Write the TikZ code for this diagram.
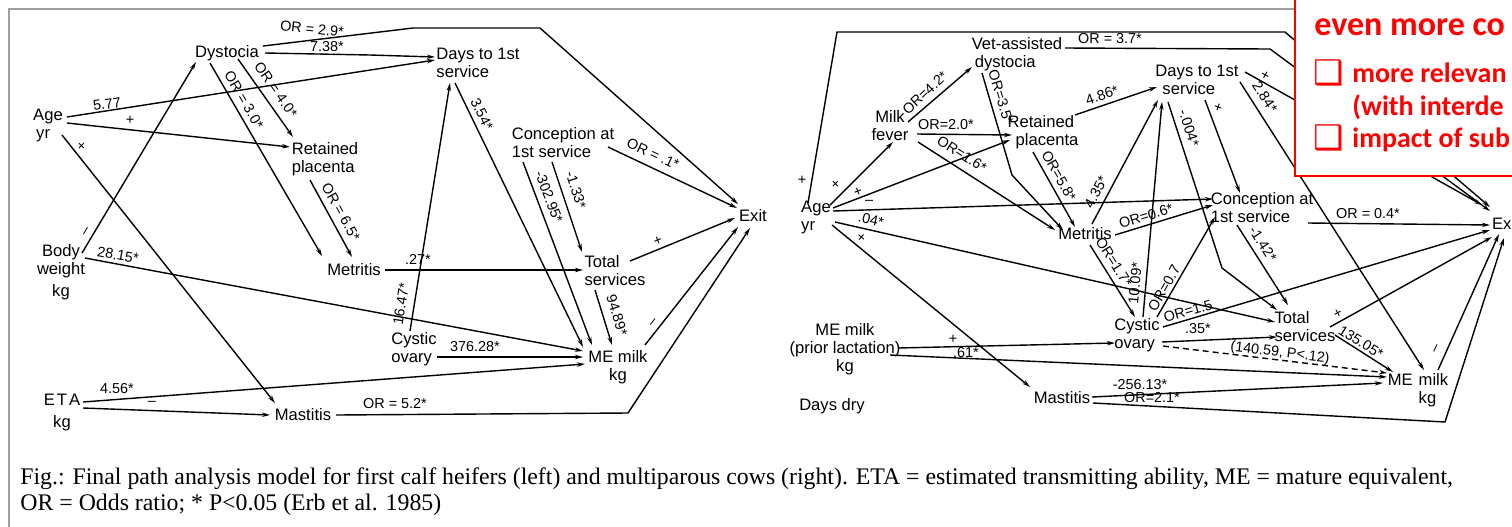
\documentclass[tikz,border=0pt]{standalone}
\usepackage{fontspec}
\setmainfont{Liberation Sans}
\newfontfamily\capfont{Liberation Serif}
\newfontfamily\boxfont{Carlito}
\newfontfamily\symfont{DejaVu Sans}
\usetikzlibrary{arrows.meta,calc}
\begin{document}
\begin{tikzpicture}[x=0.5pt,y=-0.5pt,
  nd/.style={inner sep=0pt, font=\fontsize{8.3}{9}\selectfont},
  lb/.style={inner sep=0pt, font=\fontsize{7.2}{8}\selectfont},
  ln/.style={line width=0.7pt},
  ar/.style={ln, -{Stealth[length=4pt,width=2.2pt]}},
  rbig/.style={anchor=base west, inner sep=0pt, text={rgb,255:red,255;green,0;blue,0}, font=\boxfont\bfseries\fontsize{17}{20}\selectfont},
  rsmall/.style={anchor=base west, inner sep=0pt, text={rgb,255:red,255;green,0;blue,0}, font=\boxfont\bfseries\fontsize{14}{16}\selectfont},
  rbox/.style={anchor=base west, inner sep=0pt, text={rgb,255:red,255;green,0;blue,0}, font=\symfont\fontsize{17}{19}\selectfont},
  capt/.style={anchor=base west, inner sep=0pt, font=\capfont\fontsize{11.9}{13}\selectfont},
]
\useasboundingbox (0,0) rectangle (1512,526);
\begin{scope}
\clip (0,0) rectangle (1512,526);
\fill[white] (0,0) rectangle (1512,526);
\draw[gray!75, line width=1pt] (9,540) -- (9,9) -- (1540,9);

% ---------------- left diagram: nodes
\node[nd,align=left] (ageL) at (48,126) {Age\\\hspace{1.5pt}yr};
\node[nd] (dys) at (227,53) {Dystocia};
\node[nd,align=left] (d1L) at (478,63) {Days to 1st\\service};
\node[nd,align=left] (rpL) at (325,159) {Retained\\placenta};
\node[nd,align=left] (conL) at (563,143) {Conception at\\1st service};
\node[nd] (exitL) at (753,216) {Exit};
\node[nd,align=center] (bwL) at (61,272) {Body\\weight\\[2pt]kg};
\node[nd] (metL) at (354,270) {Metritis};
\node[nd,align=left] (totL) at (615,271) {Total\\services};
\node[nd,align=left] (cysL) at (414,349) {Cystic\\ovary};
\node[nd,align=center] (meL) at (618,367) {ME milk\\kg};
\node[nd,align=center] (etaL) at (62,413) {E\kern1pt T\kern1pt A\\[2pt]kg};
\node[nd] (masL) at (303,415) {Mastitis};

% ---------------- left diagram: connectors
\draw[ar] ($(dys)+(36,-7)$) -- (413,28) -- (540,28) -- ($(exitL)+(-15,-12)$);
\draw[ar] ($(dys)+(38,0)$) -- (370,55) -- ($(d1L)+(-43,-6)$);
\draw[ar] ($(ageL)+(19,-9)$) -- ($(d1L)+(-43,-3)$);
\draw[ar] ($(ageL)+(19,-3)$) -- ($(rpL)+(-35,-12)$);
\draw[ar] ($(ageL)+(14,9)$) -- ($(masL)+(-28,-12)$);
\draw[ar] ($(bwL)+(21,-19)$) -- ($(dys)+(-31,9)$);
\draw[ar] ($(bwL)+(24,-14)$) -- ($(meL)+(-35,-16)$);
\draw[ar] ($(dys)+(-17,10)$) -- ($(metL)+(-32,-14)$);
\draw[ar] ($(dys)+(11,6)$) -- ($(rpL)+(-32,-22)$);
\draw[ar] ($(rpL)+(-15,21)$) -- ($(metL)+(-2,-13)$);
\draw[ar] ($(metL)+(31,0)$) -- ($(totL)+(-32,-1)$);
\draw[ar] ($(cysL)+(-4,-18)$) -- ($(d1L)+(-28,20)$);
\draw[ar] ($(cysL)+(23,8)$) -- ($(meL)+(-35,-10)$);
\draw[ar] ($(d1L)+(-23,20)$) -- ($(meL)+(-35,-20)$);
\draw[ar] ($(conL)+(-40,19)$) -- ($(meL)+(-26,-22)$);
\draw[ar] ($(conL)+(-11,19)$) -- ($(totL)+(-33,-19)$);
\draw[ar] ($(conL)+(45,4)$) -- ($(exitL)+(-16,-8)$);
\draw[ar] ($(totL)+(15,-10)$) -- ($(exitL)+(-18,2)$);
\draw[ar] ($(meL)+(27,-22)$) -- ($(exitL)+(-15,11)$);
\draw[ar] ($(masL)+(33,0)$) -- (628,413) -- ($(exitL)+(-3,12)$);
\draw[ar] ($(etaL)+(21,-11)$) -- ($(meL)+(-33,-3)$);
\draw[ar] ($(etaL)+(21,-5)$) -- ($(masL)+(-33,0)$);
\draw[ar] ($(totL)+(-20,19)$) -- ($(meL)+(-6,-22)$);

% ---------------- left diagram: labels
\node[lb,rotate=-6] (lbL1) at (312,29) {OR = 2.9*};
\node[lb] (lbL2) at (327,47) {7.38*};
\node[lb,rotate=8] (lbL3) at (107,104) {5.77};
\node[lb] (lbL4) at (130,120) {+};
\node[lb,rotate=-45] (lbL5) at (81,147) {+};
\node[lb,rotate=59] (lbL6) at (87,232) {--};
\node[lb,rotate=-10] (lbL7) at (118,255) {28.15*};
\node[lb,rotate=-60] (lbL8) at (244,100) {OR = 3.0*};
\node[lb,rotate=-55] (lbL9) at (276,90) {OR = 4.0*};
\node[lb,rotate=-61] (lbL10) at (341,212) {OR = 6.5*};
\node[lb] (lbL11) at (418,259) {.27*};
\node[lb,rotate=81] (lbL12) at (401,304) {16.47*};
\node[lb] (lbL13) at (475,347) {376.28*};
\node[lb,rotate=-64] (lbL14) at (482,114) {3.54*};
\node[lb,rotate=-69] (lbL15) at (549,197) {-302.95*};
\node[lb,rotate=-72] (lbL16) at (576,190) {-1.33*};
\node[lb,rotate=-25] (lbL17) at (653,154) {OR = .1*};
\node[lb,rotate=22] (lbL18) at (658,241) {+};
\node[lb,rotate=52] (lbL19) at (654,323) {--};
\node[lb] (lbL20) at (395,404) {OR = 5.2*};
\node[lb] (lbL21) at (117,389) {4.56*};
\node[lb] (lbL22) at (152,403) {--};
\node[lb,rotate=-73] (lbL23) at (617,315) {94.89*};

% ---------------- right diagram: nodes
\node[nd,align=left] (ageR) at (816,218) {Age\\yr};
\node[nd,align=left] (vet) at (1017,54) {Vet-assisted\\\hspace{1.5pt}dystocia};
\node[nd,align=center] (mf) at (890,126) {Milk\\fever};
\node[nd,align=left] (rpR) at (1043,132) {Retained\\\hspace{4pt}placenta};
\node[nd,align=left] (d1R) at (1197,80) {Days to 1st\\\hspace{3.5pt}service};
\node[nd] (metR) at (1085,234) {Metritis};
\node[nd,align=left] (conR) at (1262,208) {Conception at\\1st service};
\node[nd] (exitR) at (1506,224) {Exit};
\node[nd,align=left] (cysR) at (1137,335) {Cystic\\ovary};
\node[nd,align=left] (totR) at (1305,327) {Total\\services};
\node[nd,align=left] (meR) at (1418,390) {ME\hspace{3pt}milk\\\hphantom{ME\hspace{3pt}}kg};
\node[nd,align=center] (mepR) at (845,349) {ME milk\\(prior lactation)\\kg};
\node[nd] (ddry) at (832,406) {Days dry};
\node[nd] (masR) at (1062,398) {Mastitis};

% ---------------- right diagram: connectors
\draw[ar] ($(ageR)+(-8,-15)$) -- (837,32) -- (1285,32) -- ($(exitR)+(-16,-17)$);
\draw[ar] ($(vet)+(48,-6)$) -- (1270,49) -- ($(exitR)+(-16,-13)$);
\draw[ar] ($(d1R)+(43,2)$) -- ($(meR)+(6,-20)$);
\draw[ar] ($(d1R)+(48,-8)$) -- ($(exitR)+(-24,-19)$);
\draw[ar] ($(mf)+(18,-4)$) -- ($(vet)+(-45,13)$);
\draw[ar] ($(mf)+(27,8)$) -- ($(rpR)+(-31,3)$);
\draw[ar] ($(mf)+(28,16)$) -- ($(metR)+(-30,-4)$);
\draw[ar] ($(ageR)+(14,-13)$) -- ($(mf)+(3,16)$);
\draw[ar] ($(ageR)+(17,-10)$) -- ($(rpR)+(-33,8)$);
\draw[ar] ($(ageR)+(17,-7)$) -- ($(conR)+(-49,-9)$);
\draw[ar] ($(ageR)+(19,4)$) -- ($(totR)+(-30,-5)$);
\draw[ar] ($(ageR)+(16,7)$) -- ($(masR)+(-32,-11)$);
\draw[ar] ($(vet)+(-35,19)$) -- (1012,175) -- ($(metR)+(-22,-4)$);
\draw[ar] ($(rpR)+(-10,20)$) -- ($(metR)+(-10,-7)$);
\draw[ar] ($(rpR)+(32,-17)$) -- ($(d1R)+(-40,7)$);
\draw[ar] ($(metR)+(7,-10)$) -- ($(d1R)+(-39,20)$);
\draw[ar] ($(metR)+(30,1)$) -- ($(conR)+(-49,-3)$);
\draw[ar] ($(metR)+(5,11)$) -- ($(cysR)+(-2,-18)$);
\draw[ar] ($(cysR)+(6,-18)$) -- ($(d1R)+(-35,22)$);
\draw[ar] ($(cysR)+(20,-18)$) -- ($(conR)+(-47,9)$);
\draw[ar] ($(cysR)+(26,-8)$) -- ($(exitR)+(-16,6)$);
\draw[ar] ($(d1R)+(-29,22)$) -- (1222,268) -- ($(totR)+(-28,-17)$);
\draw[ar] ($(d1R)+(8,20)$) -- ($(conR)+(-22,-15)$);
\draw[ar] ($(conR)+(46,15)$) -- ($(exitR)+(-16,1)$);
\draw[ar] ($(conR)+(-25,17)$) -- ($(totR)+(-17,-22)$);
\draw[ar] ($(totR)+(25,0)$) -- ($(exitR)+(-14,13)$);
\draw[ar] ($(totR)+(30,8)$) -- ($(meR)+(-25,-18)$);
\draw[ar] ($(cysR)+(25,7)$) -- ($(totR)+(-28,10)$);
\draw[ar,dash pattern=on 3pt off 2pt] ($(cysR)+(26,11)$) -- ($(meR)+(-31,-17)$);
\draw[ar] ($(mepR)+(53,-1)$) -- ($(cysR)+(-22,8)$);
\draw[ar] ($(mepR)+(45,6)$) -- ($(meR)+(-31,-13)$);
\draw[ar] ($(masR)+(30,-1)$) -- ($(meR)+(-35,-7)$);
\draw[ar] ($(masR)+(31,5)$) -- (1445,422) -- ($(exitR)+(-2,14)$);
\draw[ar] ($(meR)+(20,-20)$) -- ($(exitR)+(-7,10)$);

% ---------------- right diagram: labels
\node[lb] (lbR1) at (802,180) {+};
\node[lb] (lbR2) at (1110,39) {OR = 3.7*};
\node[lb,rotate=-57] (lbR3) at (1265,97) {2.84*};
\node[lb,rotate=-29] (lbR3b) at (1265,76) {+};
\node[lb,rotate=43] (lbR4) at (925,93) {OR=4.2*};
\node[lb] (lbR5) at (946,125) {OR=2.0*};
\node[lb,rotate=-33] (lbR6) at (962,154) {OR=1.6*};
\node[lb,rotate=45] (lbR7) at (836,185) {+};
\node[lb,rotate=21] (lbR8) at (858,192) {+};
\node[lb] (lbR9) at (869,202) {--};
\node[lb,rotate=-13] (lbR10) at (871,220) {.04*};
\node[lb,rotate=-40] (lbR11) at (861,238) {+};
\node[lb,rotate=-73] (lbR13) at (1001,97) {OR=3.5*};
\node[lb,rotate=-61] (lbR14) at (1059,176) {OR=5.8*};
\node[lb,rotate=19] (lbR15) at (1102,95) {4.86*};
\node[lb,rotate=62] (lbR16) at (1096,192) {4.35*};
\node[lb,rotate=17] (lbR17) at (1146,216) {OR=0.6*};
\node[lb,rotate=-58] (lbR18) at (1114,262) {OR=1.7*};
\node[lb,rotate=85] (lbR19) at (1135,283) {10.09*};
\node[lb,rotate=60] (lbR20) at (1164,288) {OR=0.7};
\node[lb,rotate=16] (lbR21) at (1188,311) {OR=1.5};
\node[lb,rotate=-72] (lbR22) at (1189,128) {-.004*};
\node[lb,rotate=-20] (lbR23) at (1218,108) {+};
\node[lb] (lbR24) at (1368,214) {OR = 0.4*};
\node[lb,rotate=-57] (lbR25) at (1263,244) {-1.42*};
\node[lb,rotate=29] (lbR26) at (1338,314) {+};
\node[lb,rotate=-32] (lbR27) at (1361,342) {135.05*};
\node[lb] (lbR28) at (1198,329) {.35*};
\node[lb,rotate=-7] (lbR29) at (1280,353) {(140.59, P<.12)};
\node[lb] (lbR30) at (953,339) {+};
\node[lb] (lbR31) at (966,353) {.61*};
\node[lb] (lbR32) at (1140,385) {-256.13*};
\node[lb] (lbR33) at (1152,398) {OR=2.1*};
\node[lb,rotate=65] (lbR34) at (1437,349) {--};

% ---------------- red call-out box
\draw[draw={rgb,255:red,255;green,0;blue,0}, line width=1.1pt, fill=white] (1295,-20) rectangle (1560,176);
\node[rbig] (rb1) at (1314,35) {even more co};
\node[rbox] (cb1) at (1313,84) {❑};
\node[rsmall] (rb2) at (1352,82) {more relevan};
\node[rsmall] (rb3) at (1352,115) {(with interde};
\node[rbox] (cb2) at (1313,149) {❑};
\node[rsmall] (rb4) at (1352,147) {impact of sub};

% ---------------- caption
\node[capt] (cap1) at (20,484) {Fig.: Final path analysis model for first calf heifers (left) and multiparous cows (right). ETA = estimated transmitting ability, ME = mature equivalent,};
\node[capt] (cap2) at (20,510) {OR = Odds ratio; * P<0.05 (Erb et al. 1985)};
\end{scope}
\end{tikzpicture}
\end{document}
